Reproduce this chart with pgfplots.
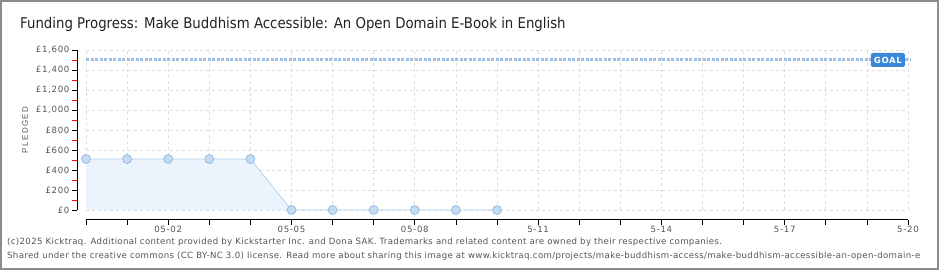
\documentclass[border=0pt]{standalone}
\usepackage{fontspec}
\setmainfont{Liberation Sans}
\newfontfamily\condfont{DejaVu Sans Condensed}
\newfontfamily\footfont[LetterSpace=4]{DejaVu Sans}
\newfontfamily\tickfont[LetterSpace=8]{DejaVu Sans}
\usepackage{pgfplots}
\pgfplotsset{compat=1.18}
\definecolor{fillblue}{HTML}{EBF3FC}
\definecolor{lineblue}{HTML}{B5D2F0}
\definecolor{markfill}{HTML}{C3DCF6}
\definecolor{markedge}{HTML}{8EAFD3}
\definecolor{goalline}{HTML}{9CC0E6}
\definecolor{goalbox}{HTML}{3A87D9}
\definecolor{gridgray}{HTML}{DDDDDD}
\definecolor{framegray}{HTML}{8C8C8C}
\definecolor{ticktext}{HTML}{555555}
\definecolor{foottext}{HTML}{555555}
\definecolor{titletext}{HTML}{222222}
\begin{document}
\begin{tikzpicture}[x=1pt,y=1pt]
\useasboundingbox (0,0) rectangle (940,270);
\fill[white] (0,0) rectangle (940,270);
\draw[framegray, line width=2pt] (1,1) rectangle (938,269);
\node[anchor=base west, inner sep=0, text=titletext, font=\condfont\fontsize{14.8}{18}\selectfont] at (20,241) {Funding Progress: Make Buddhism Accessible: An Open Domain E-Book in English};
\node[anchor=base west, inner sep=0, text=foottext, font=\footfont\fontsize{8.6}{9}\selectfont] at (7,25) {(c)2025 Kicktraq. Additional content provided by Kickstarter Inc. and Dona SAK. Trademarks and related content are owned by their respective companies.};
\node[anchor=base west, inner sep=0, text=foottext, font=\footfont\fontsize{8.6}{9}\selectfont] at (7,11) {Shared under the creative commons (CC BY-NC 3.0) license. Read more about sharing this image at www.kicktraq.com/projects/make-buddhism-access/make-buddhism-accessible-an-open-domain-e};
\begin{axis}[
  at={(86pt,60pt)},
  scale only axis, width=822pt, height=160pt,
  xmin=0, xmax=20, ymin=0, ymax=1600,
  axis lines=left,
  axis line style={-, black, line width=1pt},
  axis x line shift=10pt,
  axis y line shift=9pt,
  tick align=outside,
  major tick length=5pt,
  minor tick length=5pt,
  tick style={black, line width=0.8pt},
  minor y tick style={red, line width=0.8pt},
  xtick={0,...,20},
  xticklabels={,,05-02,,,05-05,,,05-08,,,5-11,,,5-14,,,5-17,,,5-20},
  ytick={0,200,...,1600},
  minor y tick num=1,
  yticklabel={£\pgfmathprintnumber[1000 sep={,}]{\tick}},
  /pgf/number format/assume math mode=true,
  ticklabel style={font=\tickfont\fontsize{8.6}{10}\selectfont, text=ticktext},
  xticklabel style={yshift=2.5pt},
  yticklabel style={xshift=1pt},
  grid=major,
  major grid style={dashed, gridgray, line width=0.8pt},
  ylabel={P\,L\,E\,D\,G\,E\,D},
  ylabel style={at={(rel axis cs:-0.0742,0.5)}, anchor=center, font=\fontsize{8}{9}\selectfont, text=ticktext},
  clip=false,
]
\addplot[fill=fillblue, draw=none, forget plot] coordinates {(0,510) (1,510) (2,510) (3,510) (4,510) (5,0) (6,0) (7,0) (8,0) (9,0) (10,0)} \closedcycle;
\addplot[goalline, line width=3pt, dash pattern=on 3.2pt off 1.3pt] coordinates {(0,1500) (20.05,1500)};
\addplot[lineblue, line width=0.8pt, mark=*, mark size=4.5pt, mark options={fill=markfill, draw=markedge, line width=0.6pt}] coordinates {(0,510) (1,510) (2,510) (3,510) (4,510) (5,0) (6,0) (7,0) (8,0) (9,0) (10,0)};
\node[fill=goalbox, text=white, rounded corners=2pt, inner sep=0pt, minimum width=34pt, minimum height=14pt, font=\tickfont\fontsize{8.5}{9}\selectfont\bfseries] at (axis cs:19.51,1500) {GOAL};
\end{axis}
\end{tikzpicture}
\end{document}
